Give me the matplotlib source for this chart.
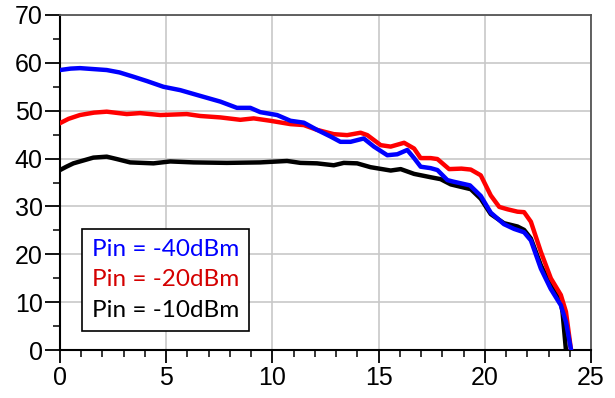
import matplotlib
matplotlib.use("Agg")
from matplotlib import pyplot as plt
from matplotlib.ticker import MultipleLocator

# curve samples
x_m40 = [0, 0.5, 0.94, 1.57, 2.2, 2.8, 3.46, 4.09, 4.87, 5.66, 6.6, 7.55, 8.33, 8.96,
         9.43, 10.22, 10.85, 11.48, 12.1, 12.74, 13.2, 13.68, 14.3, 14.78, 15.41, 15.88,
         16.35, 16.67, 16.98, 17.45, 17.77, 18.24, 18.5, 19.3, 19.81, 20.28, 20.9, 21.38,
         21.85, 22.17, 22.64, 23.1, 23.58, 23.82, 24.06]
y_m40 = [58.5, 58.8, 58.9, 58.7, 58.5, 58.0, 57.1, 56.2, 55.0, 54.3, 53.1, 51.9, 50.6, 50.6,
         49.7, 49.1, 47.9, 47.5, 46.0, 44.6, 43.5, 43.5, 44.2, 42.5, 40.7, 40.9,
         41.8, 40.1, 38.3, 38.0, 37.6, 35.5, 35.2, 34.4, 32.2, 28.7, 26.3, 25.3,
         24.6, 22.9, 17.0, 12.8, 9.35, 5.9, 0]

x_m20 = [0, 0.4, 0.94, 1.6, 2.2, 3.14, 3.77, 4.72, 5.97, 6.6, 7.55, 8.49, 9.12, 9.9,
         10.85, 11.48, 12.1, 12.89, 13.52, 14.15, 14.47, 15.1, 15.57, 16.2, 16.67, 16.98,
         17.45, 17.77, 18.32, 18.9, 19.34, 19.81, 20.28, 20.68, 21.07, 21.54, 21.85, 22.17,
         22.64, 23.11, 23.58, 23.82, 24.06]
y_m20 = [47.4, 48.3, 49.1, 49.6, 49.8, 49.3, 49.5, 49.1, 49.3, 48.9, 48.6, 48.1, 48.4, 47.9,
         47.2, 47.0, 46.0, 45.1, 44.9, 45.4, 44.9, 42.8, 42.5, 43.3, 42.1, 40.1,
         40.1, 39.9, 37.8, 37.9, 37.7, 36.5, 32.3, 29.9, 29.4, 28.9, 28.8, 26.8,
         20.5, 14.97, 11.5, 8.0, 0]

x_m10 = [0, 0.3, 0.63, 1.57, 2.2, 2.67, 3.3, 4.4, 5.19, 6.29, 7.86, 9.43, 10.69, 11.32,
         12.1, 12.89, 13.36, 13.99, 14.62, 15.57, 16.04, 16.67, 17.45, 17.92, 18.4, 19.34,
         19.81, 20.28, 20.9, 21.54, 21.85, 22.17, 22.64, 23.1, 23.58, 23.66, 23.82]
y_m10 = [37.6, 38.3, 39.0, 40.2, 40.4, 39.9, 39.2, 39.0, 39.4, 39.2, 39.1, 39.2, 39.5, 39.1,
         39.0, 38.6, 39.1, 39.0, 38.2, 37.5, 37.8, 36.8, 36.1, 35.7, 34.6, 33.6,
         31.6, 28.4, 26.5, 25.8, 25.1, 23.3, 17.7, 13.5, 10.0, 7.9, 0]

labels = ["Pin = -40dBm", "Pin = -20dBm", "Pin = -10dBm"]

fig = plt.figure(figsize=(6.15, 3.98), dpi=100)
ax = fig.add_axes([60/615, 48/398, 531/615, 335/398])

ax.plot(x_m10, y_m10, color="black", lw=3.2, solid_joinstyle="round", zorder=3)
ax.plot(x_m20, y_m20, color="#ff0000", lw=3.2, solid_joinstyle="round", zorder=3)
ax.plot(x_m40, y_m40, color="#0000ff", lw=3.2, solid_joinstyle="round", zorder=3)

ax.set_xlim(0, 25)
ax.set_ylim(0, 70)
ax.xaxis.set_major_locator(MultipleLocator(5))
ax.xaxis.set_minor_locator(MultipleLocator(1))
ax.yaxis.set_major_locator(MultipleLocator(10))
ax.yaxis.set_minor_locator(MultipleLocator(5))
ax.grid(True, which="major", color="#c8c8c8", lw=1.2, zorder=0)

for s in ["left", "bottom"]:
	ax.spines[s].set_color("black")
	ax.spines[s].set_linewidth(1.5)
for s in ["top", "right"]:
	ax.spines[s].set_color("#555555")
	ax.spines[s].set_linewidth(1.3)

ax.tick_params(which="major", axis="y", direction="out", length=11, width=1.3, pad=1.5)
ax.tick_params(which="minor", axis="y", direction="out", length=5, width=1.1)
ax.tick_params(which="major", axis="x", direction="out", length=9.5, width=1.3, pad=2)
ax.tick_params(which="minor", axis="x", direction="out", length=5, width=1.1)
for t in ax.get_xticklabels() + ax.get_yticklabels():
	t.set_fontfamily("Liberation Sans")
	t.set_fontsize(18)

# legend: coloured text only, no handles
handles = [plt.Line2D([], [], lw=0) for _ in labels]
leg = ax.legend(handles, labels, loc="lower left", bbox_to_anchor=(0.0415, 0.057),
                handlelength=0, handletextpad=0, labelcolor=["#0000ff", "#d40000", "black"],
                prop={"family": "Lato", "size": 17.5}, fancybox=False, framealpha=1,
                edgecolor="black", borderpad=0.4, labelspacing=0.4, borderaxespad=0)
leg.get_frame().set_linewidth(1.2)
leg.set_zorder(5)

fig.savefig("out.png", dpi=100)
